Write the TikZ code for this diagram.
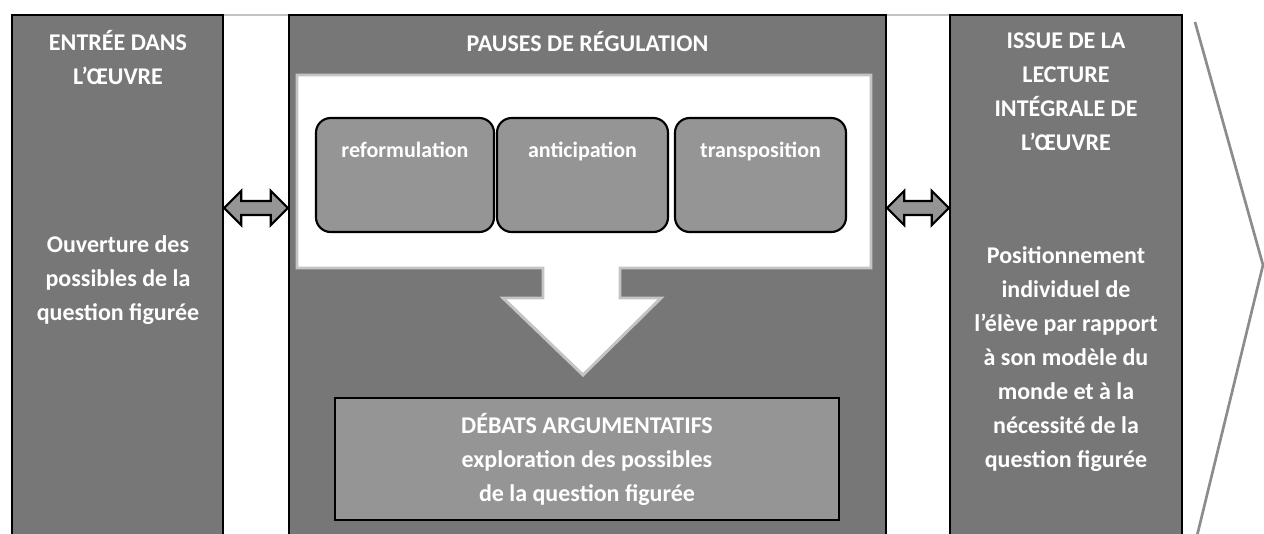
\documentclass[tikz,border=0pt]{standalone}
\usepackage{fontspec}
\setmainfont{Carlito}
\usetikzlibrary{calc}
\definecolor{boxgray}{HTML}{777777}
\definecolor{innergray}{HTML}{959595}
\definecolor{edgegray}{HTML}{C4C4C4}
\definecolor{chevgray}{HTML}{8C8C8C}
\tikzset{
  outerbox/.style={draw=black, line width=1.8pt, fill=boxgray, inner sep=0pt},
  stagebox/.style={draw=black, line width=1.6pt, fill=innergray, rounded corners=11pt, inner sep=0pt},
  debatebox/.style={draw=black, line width=1.8pt, fill=innergray, inner sep=0pt, align=center, text=white, font=\bfseries\fontsize{18}{25.5}\selectfont},
  bigtxt/.style={text=white, align=center, inner sep=0pt, font=\bfseries\fontsize{18}{25.5}\selectfont},
  smalltxt/.style={text=white, align=center, inner sep=0pt, anchor=base, font=\bfseries\fontsize{16.5}{20}\selectfont},
  arrowstyle/.style={draw=black, line width=1.6pt, fill=innergray, line join=miter},
  panelstyle/.style={draw=edgegray, line width=2.2pt, fill=white, line join=miter}
}
\newcommand\dblarr[2]{%
  \draw[arrowstyle] (#1) -- ($(#1)+(17,-17)$) -- ($(#1)+(17,-7)$) -- ($(#2)+(-17,-7)$) -- ($(#2)+(-17,-17)$) -- (#2)
   -- ($(#2)+(-17,17)$) -- ($(#2)+(-17,7)$) -- ($(#1)+(17,7)$) -- ($(#1)+(17,17)$) -- cycle;}
\begin{document}
\begin{tikzpicture}[x=0.75pt,y=-0.75pt]
\useasboundingbox (0,0) rectangle (1264,533);
\clip (0,0) rectangle (1264,533);
\fill[white] (0,0) rectangle (1264,533);
% thin top line
\draw[edgegray, line width=0.8pt] (12,15) -- (1182,15);
% outer boxes
\node[outerbox, minimum width=158.25pt, minimum height=397.5pt] (L) at (117.5,280) {};
\node[outerbox, minimum width=447.75pt, minimum height=397.5pt] (M) at (587.5,280) {};
\node[outerbox, minimum width=174pt, minimum height=397.5pt] (R) at (1066,280) {};
% titles
\node[bigtxt] (Lt) at (118,57.5) {ENTRÉE DANS\\L’ŒUVRE};
\node[bigtxt] (Lb) at (118,280) {Ouverture des\\possibles de la\\question figurée};
\node[bigtxt] (Mt) at (587.5,42) {PAUSES DE RÉGULATION};
\node[bigtxt] (Rt) at (1066,92) {ISSUE DE LA\\LECTURE\\INTÉGRALE DE\\L’ŒUVRE};
\node[bigtxt] (Rb) at (1066,359) {Positionnement\\individuel de\\l’élève par rapport\\à son modèle du\\monde et à la\\nécessité de la\\question figurée};
% white panel with arrow
\draw[panelstyle] (297,75) -- (871,75) -- (871,268) -- (620,268) -- (620,298) -- (661,298) -- (583,375)
  -- (503,298) -- (543,298) -- (543,268) -- (297,268) -- cycle;
% stage boxes
\node[stagebox, minimum width=133.5pt, minimum height=85.5pt] (B1) at (405,175) {};
\node[stagebox, minimum width=128.25pt, minimum height=85.5pt] (B2) at (582.5,175) {};
\node[stagebox, minimum width=128.25pt, minimum height=85.5pt] (B3) at (760.5,175) {};
\node[smalltxt] (B1t) at (405,157) {reformulation};
\node[smalltxt] (B2t) at (582.5,157) {anticipation};
\node[smalltxt] (B3t) at (760.5,157) {transposition};
% debate box
\node[debatebox, minimum width=378pt, minimum height=91.5pt] (D) at (587,459)
  {DÉBATS ARGUMENTATIFS\\exploration des possibles\\de la question figurée};
% double arrows
\coordinate (yA) at (0,208);
\coordinate (a1) at (L.east |- yA);
\coordinate (a2) at (M.west |- yA);
\coordinate (a3) at (M.east |- yA);
\coordinate (a4) at (R.west |- yA);
\dblarr{a1}{a2}
\dblarr{a3}{a4}
% chevron
\coordinate (c1) at (1195,22);
\coordinate (c2) at (1263,265);
\coordinate (c3) at (1196,540);
\draw[chevgray, line width=2pt] (c1) -- (c2) -- (c3);
\end{tikzpicture}
\end{document}
